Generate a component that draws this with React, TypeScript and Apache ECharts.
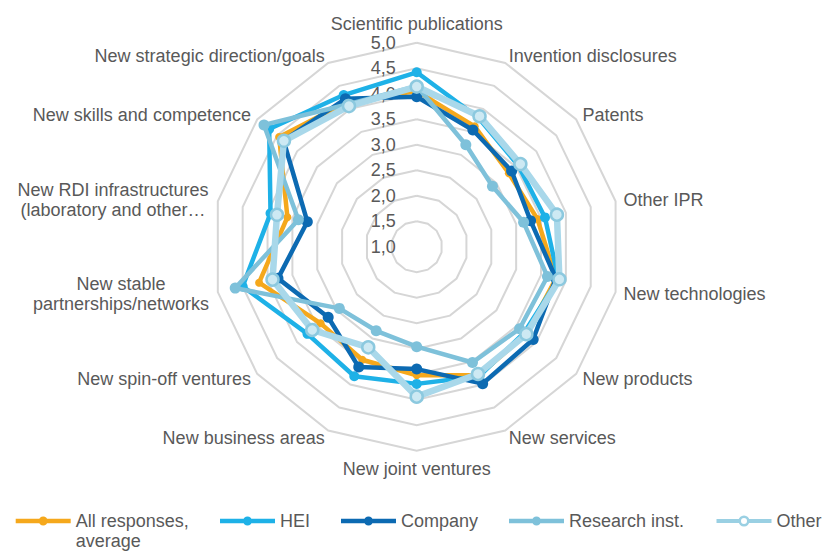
import React, { useEffect, useRef } from "react";
import * as echarts from "echarts";

// Indicators, clockwise from the top
const indicatorNames = [
  "Scientific publications",
  "Invention disclosures",
  "Patents",
  "Other IPR",
  "New technologies",
  "New products",
  "New services",
  "New joint ventures",
  "New business areas",
  "New spin-off ventures",
  "New stable\npartnerships/networks",
  "New RDI infrastructures\n(laboratory and other…",
  "New skills and competence",
  "New strategic direction/goals",
];

const allResponses = [4.05, 3.62, 3.31, 3.43, 3.8, 3.75, 3.8, 3.52, 3.46, 3.41, 4.17, 3.6, 4.45, 4.15];
const hei = [4.42, 3.8, 3.55, 3.58, 3.85, 3.7, 3.82, 3.69, 3.82, 3.74, 4.5, 3.94, 4.7, 4.3];
const company = [3.94, 3.54, 3.38, 3.29, 3.8, 3.92, 3.98, 3.4, 3.62, 3.22, 3.79, 3.2, 4.34, 4.22];
const researchInst = [4.15, 3.22, 2.9, 3.15, 3.63, 3.58, 3.52, 2.96, 2.83, 2.94, 4.65, 3.38, 4.83, 4.1];
const other = [4.14, 3.84, 3.6, 3.82, 3.87, 3.75, 3.77, 3.94, 3.19, 3.62, 3.9, 3.81, 4.33, 4.06];

const seriesNames = ["All responses,\naverage", "HEI", "Company", "Research inst.", "Other"];
const axisMin = 1;
const axisMax = 5;
const axisSplits = 8;

const TEXT = "#595959";
const FONT = "'Liberation Sans', Arial, sans-serif";

// ECharts lays radar indicators out counter-clockwise; reverse to get clockwise order
const order = [0, ...Array.from({ length: indicatorNames.length - 1 }, (_, i) => indicatorNames.length - 1 - i)];
const reorder = (arr: number[]) => order.map((i) => arr[i]);

const LINE_ICON = "path://M0,3.75H55V8.25H0Z M23,6a4.5,4.5 0 1,1 9,0a4.5,4.5 0 1,1 -9,0Z";
const HOLLOW_ICON =
  "path://M0,4H22.3V8H0Z M32.7,4H55V8H32.7Z M22,6a5.5,5.5 0 1,1 11,0a5.5,5.5 0 1,1 -11,0Z M24.5,6a3,3 0 1,0 6,0a3,3 0 1,0 -6,0Z";

export default function App() {
  const ref = useRef<HTMLDivElement>(null);
  useEffect(() => {
    if (!ref.current) return;
    const chart = echarts.init(ref.current, undefined, { renderer: "svg" });

    const styles = [
      { line: "#F5A81C", width: 4.5, fill: "#F5A81C", border: "#F5A81C", bw: 0, size: 8 },
      { line: "#1EB1E7", width: 4.5, fill: "#1EB1E7", border: "#1EB1E7", bw: 0, size: 10 },
      { line: "#0C6AB2", width: 4.5, fill: "#0C6AB2", border: "#0C6AB2", bw: 0, size: 11 },
      { line: "#7EC1DA", width: 4.5, fill: "#7EC1DA", border: "#7EC1DA", bw: 0, size: 11 },
      { line: "#A9D8EA", width: 6.5, fill: "#CDE9F3", border: "#8CC9DF", bw: 2.5, size: 12 },
    ];
    const seriesData = [allResponses, hei, company, researchInst, other];

    const legendLefts = [15.7, 220, 341, 509, 716.5];
    const legendIconY = 521;
    const lh = 20;

    const legends = seriesNames.map((n, i) => {
      const multi = n.includes("\n");
      const isHollow = i === 4;
      return {
        data: [{ name: n, icon: isHollow ? HOLLOW_ICON : LINE_ICON, itemStyle: { color: isHollow ? "#9AD0E3" : styles[i].line, borderWidth: 0 } }],
        left: legendLefts[i],
        top: multi ? legendIconY - 1.5 * lh : legendIconY - lh / 2,
        padding: 0,
        itemWidth: 55,
        itemHeight: isHollow ? 11 : 9,
        itemGap: 0,
        itemStyle: { borderWidth: 0 },
        lineStyle: { width: 0 },
        selectedMode: false,
        // a blank first line keeps the first text line level with the icon
        formatter: multi ? (name: string) => " \n" + name : undefined,
        textStyle: {
          fontSize: 18,
          color: TEXT,
          fontFamily: FONT,
          lineHeight: lh,
        },
      };
    });

    const option: any = {
      animation: false,
      textStyle: { fontFamily: FONT },
      legend: legends,
      radar: {
        center: [416.7, 246.7],
        radius: 204,
        startAngle: 90,
        splitNumber: axisSplits,
        shape: "polygon",
        indicator: order.map((idx, k) => ({
          name: indicatorNames[idx],
          min: axisMin,
          max: axisMax,
          ...(k === 0
            ? {
                axisLabel: {
                  show: true,
                  fontSize: 18,
                  color: TEXT,
                  fontFamily: FONT,
                  margin: 21,
                  formatter: (v: number) => v.toFixed(1).replace(".", ","),
                },
              }
            : {}),
        })),
        nameGap: 8,
        axisName: {
          color: TEXT,
          fontSize: 18,
          fontFamily: FONT,
          lineHeight: 20,
          formatter: (name: string) => {
            if (name.startsWith("New RDI")) return name.split("\n").map((l) => `{rdi|${l}}`).join("\n");
            if (name.startsWith("New stable")) return name.split("\n").map((l) => `{net|${l}}`).join("\n");
            return name;
          },
          rich: {
            rdi: { width: 194, align: "center", fontSize: 18, color: TEXT, fontFamily: FONT, lineHeight: 20 },
            net: { width: 178, align: "center", fontSize: 18, color: TEXT, fontFamily: FONT, lineHeight: 20 },
          },
        },
        axisLine: { show: false },
        axisTick: { show: false },
        axisLabel: { show: false },
        splitArea: { show: false },
        splitLine: { lineStyle: { color: "#D6D6D6", width: 2 } },
      },
      series: seriesNames.map((n, i) => ({
        type: "radar",
        name: n,
        z: 2 + i,
        symbol: "circle",
        symbolSize: styles[i].size,
        lineStyle: { width: styles[i].width, color: styles[i].line },
        itemStyle: { color: styles[i].fill, borderColor: styles[i].border, borderWidth: styles[i].bw },
        emphasis: { disabled: true },
        data: [{ name: n, value: reorder(seriesData[i]) }],
      })),
    };
    chart.setOption(option);
    return () => chart.dispose();
  }, []);
  return (
    <div
      ref={ref}
      style={{ position: "fixed", left: 0, top: 0, width: 823, height: 552, background: "#fff" }}
    />
  );
}
